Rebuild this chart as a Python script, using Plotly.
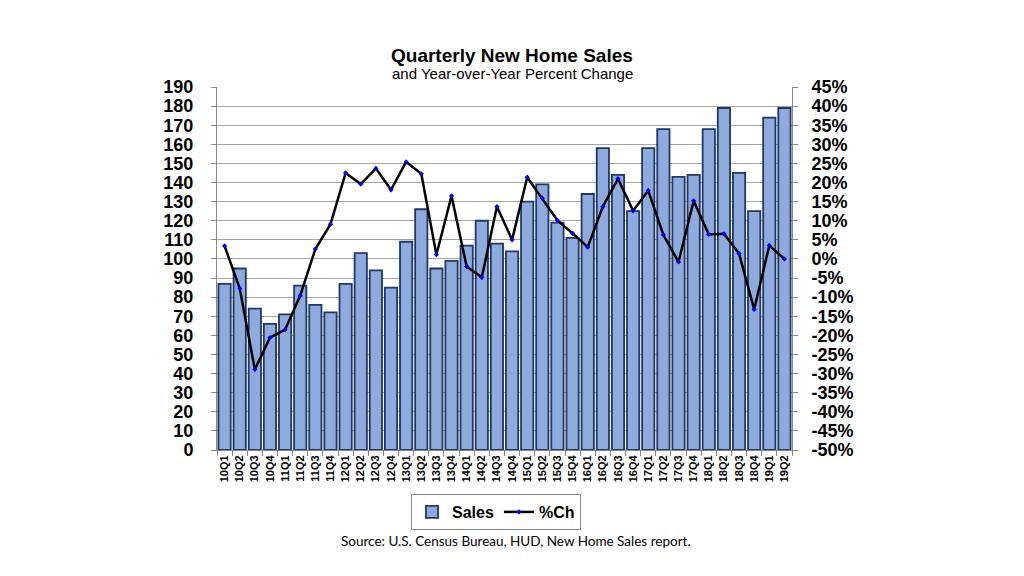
import plotly.graph_objects as go

# Quarters, 2010 Q1 through 2019 Q2
QUARTERS = [
    "10Q1", "10Q2", "10Q3", "10Q4", "11Q1", "11Q2", "11Q3", "11Q4",
    "12Q1", "12Q2", "12Q3", "12Q4", "13Q1", "13Q2", "13Q3", "13Q4",
    "14Q1", "14Q2", "14Q3", "14Q4", "15Q1", "15Q2", "15Q3", "15Q4",
    "16Q1", "16Q2", "16Q3", "16Q4", "17Q1", "17Q2", "17Q3", "17Q4",
    "18Q1", "18Q2", "18Q3", "18Q4", "19Q1", "19Q2",
]
# New home sales (thousands)
SALES = [
    87, 95, 74, 66, 71, 86, 76, 72,
    87, 103, 94, 85, 109, 126, 95, 99,
    107, 120, 108, 104, 130, 139, 119, 111,
    134, 158, 144, 125, 158, 168, 143, 144,
    168, 179, 145, 125, 174, 179,
]
# Year-over-year percent change (right axis)
PCT_CH = [
    3.4, -7.7, -28.9, -20.6, -18.5, -9.6, 2.6, 9.1,
    22.5, 19.6, 23.7, 18.1, 25.4, 22.3, 1.1, 16.5,
    -2.0, -4.8, 13.7, 5.0, 21.4, 15.9, 10.1, 6.7,
    3.1, 13.7, 21.0, 12.6, 17.9, 6.3, -0.8, 15.2,
    6.4, 6.6, 1.4, -13.2, 3.5, 0.0,
]
# Right axis tick values (percent), labelled with plain hyphens like the original
PCT_TICKS = list(range(-50, 50, 5))
PCT_LABELS = [f"{v}%" for v in PCT_TICKS]

FONT = "Liberation Sans"
AXIS_GREY = "#888888"

# page body adds 8px margin, so the plot box is shifted to compensate
PLOT_L, PLOT_R, PLOT_T, PLOT_B = 217, 792, 87, 450
PAGE_OFF = 8
PLOT_H = PLOT_B - PLOT_T
PLOT_W = PLOT_R - PLOT_L


def px_to_paper_y(y):
    return (PLOT_B - y) / PLOT_H


def px_to_paper_x(x):
    return (x - PLOT_L) / PLOT_W


fig = go.Figure()

fig.add_trace(
    go.Bar(
        x=QUARTERS,
        y=SALES,
        name="Sales",
        marker=dict(color="#8FAADC", line=dict(color="#1F3864", width=1.8)),
    )
)

fig.add_trace(
    go.Scatter(
        x=QUARTERS,
        y=PCT_CH,
        name="%Ch",
        mode="lines+markers",
        yaxis="y2",
        line=dict(color="black", width=2.5),
        marker=dict(color="blue", size=4, symbol="diamond"),
    )
)

fig.update_layout(
    width=1024,
    height=576,
    margin=dict(
        l=PLOT_L - PAGE_OFF,
        r=1024 + PAGE_OFF - PLOT_R,
        t=PLOT_T - PAGE_OFF,
        b=576 + PAGE_OFF - PLOT_B,
        autoexpand=False,
    ),
    paper_bgcolor="white",
    plot_bgcolor="white",
    bargap=0.19,
    font=dict(family=FONT, color="black"),
    xaxis=dict(
        type="category",
        range=[-0.5, len(QUARTERS) - 0.5],
        tickangle=-90,
        tickfont=dict(size=11, family=FONT, weight="bold"),
        showgrid=False,
        showline=True,
        linecolor=AXIS_GREY,
        linewidth=1,
        ticks="outside",
        ticklen=5,
        tickcolor=AXIS_GREY,
        tickson="boundaries",
    ),
    yaxis=dict(
        range=[0, 190],
        dtick=10,
        tickfont=dict(size=18, family=FONT, weight="bold"),
        ticklabelstandoff=14,
        showgrid=True,
        gridcolor="#a6a6a6",
        gridwidth=1,
        showline=True,
        linecolor=AXIS_GREY,
        linewidth=1,
        ticks="outside",
        ticklen=5,
        tickcolor=AXIS_GREY,
        zeroline=False,
    ),
    yaxis2=dict(
        overlaying="y",
        side="right",
        range=[-50, 45],
        tickmode="array",
        tickvals=PCT_TICKS,
        ticktext=PCT_LABELS,
        tickfont=dict(size=18, family=FONT, weight="bold"),
        ticklabelstandoff=10,
        showgrid=False,
        showline=True,
        linecolor=AXIS_GREY,
        linewidth=1,
        ticks="outside",
        ticklen=5,
        tickcolor=AXIS_GREY,
        zeroline=False,
    ),
    legend=dict(
        orientation="h",
        x=px_to_paper_x(496),
        xanchor="center",
        y=px_to_paper_y(494),
        yanchor="top",
        bordercolor=AXIS_GREY,
        borderwidth=1,
        font=dict(size=16, family=FONT, weight="bold"),
        itemwidth=30,
        tracegroupgap=0,
    ),
    annotations=[
        dict(
            text="<b>Quarterly New Home Sales</b>",
            xref="paper", yref="paper",
            x=px_to_paper_x(512), y=px_to_paper_y(55),
            xanchor="center", yanchor="middle",
            showarrow=False,
            font=dict(size=19, family=FONT, color="black"),
        ),
        dict(
            text="and Year-over-Year Percent Change",
            xref="paper", yref="paper",
            x=px_to_paper_x(512), y=px_to_paper_y(74),
            xanchor="center", yanchor="middle",
            showarrow=False,
            font=dict(size=15, family=FONT, color="black"),
        ),
        dict(
            text="Source: U.S. Census Bureau, HUD, New Home Sales report.",
            xref="paper", yref="paper",
            x=px_to_paper_x(516), y=px_to_paper_y(541),
            xanchor="center", yanchor="middle",
            showarrow=False,
            font=dict(size=13.5, family="Lato", color="black"),
        ),
    ],
)

fig.write_html("out.html")
